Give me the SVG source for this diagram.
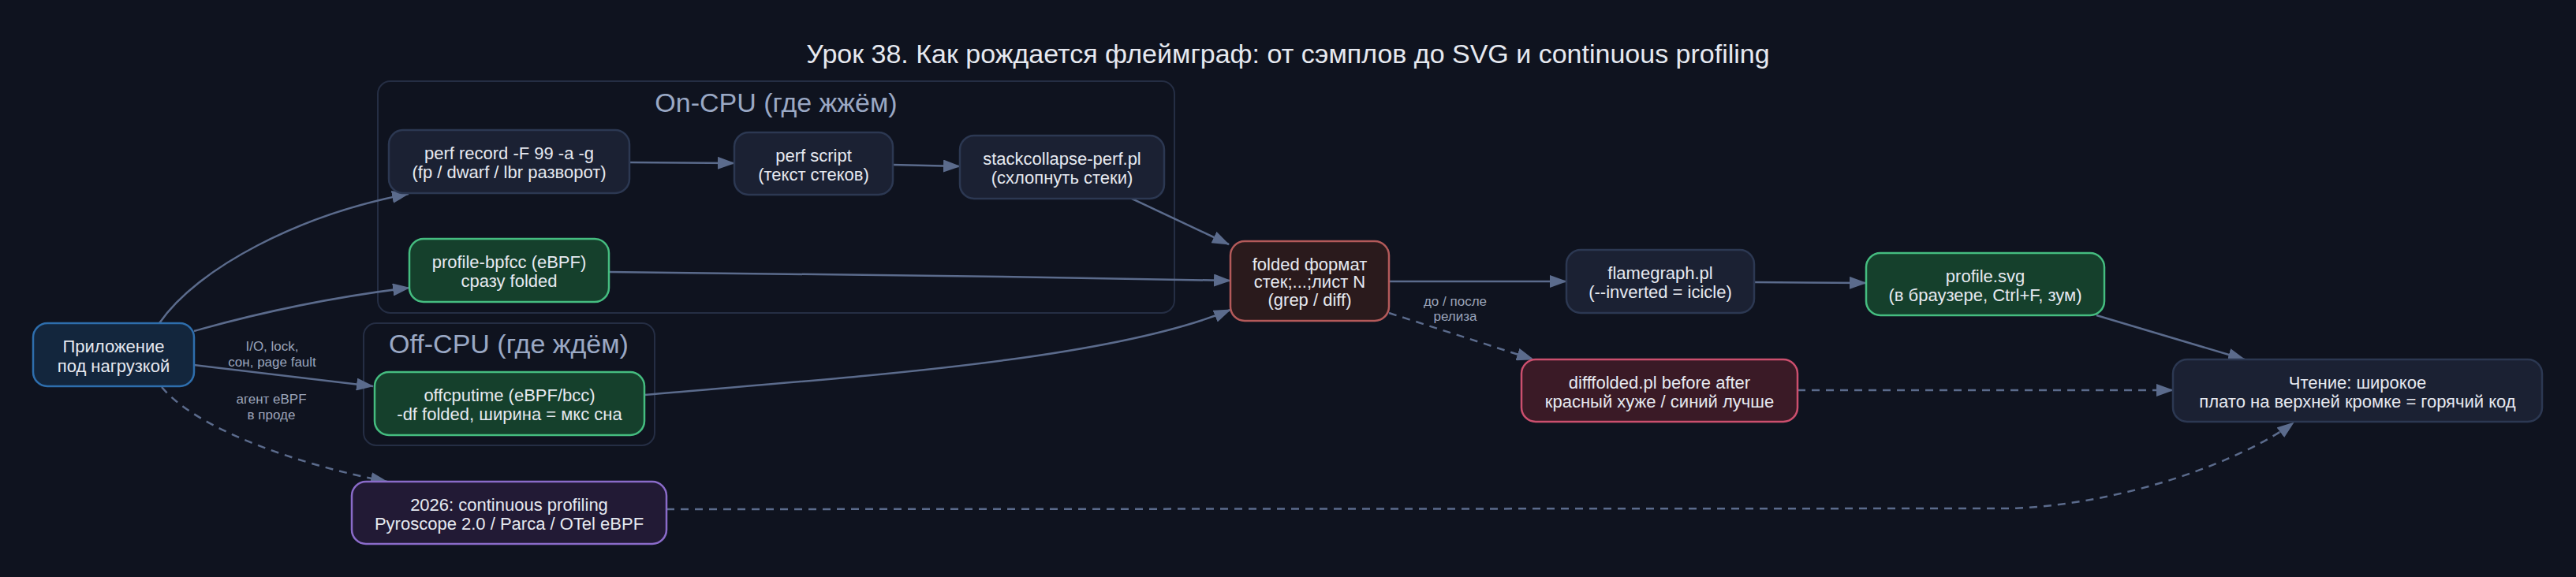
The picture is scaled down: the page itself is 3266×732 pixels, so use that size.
<svg xmlns="http://www.w3.org/2000/svg" width="3266" height="732" viewBox="0 0 3266 732">
<style>
text{font-family:"Liberation Sans",Arial,sans-serif;}
.bg{fill:#0f131f;}
.title{font-size:34px;fill:#e6e9f0;text-anchor:middle;}
.cl{fill:none;stroke:#252e44;stroke-width:2;}
.cll{font-size:34px;fill:#9aa8c4;text-anchor:middle;}
.n rect{stroke-width:2.5;}
.n text{font-size:22px;fill:#e6e9f0;text-anchor:middle;}
.def rect{fill:#1b2133;stroke:#2c3852;}
.blue rect{fill:#13263d;stroke:#2e6ead;}
.green rect{fill:#15402c;stroke:#45bd80;}
.fold rect{fill:#2a1a1c;stroke:#b45a5a;}
.diff rect{fill:#3a1a26;stroke:#cc4f6e;}
.purp rect{fill:#221a35;stroke:#8a6bc9;}
.e path{fill:none;stroke:#5b6b8c;stroke-width:2.5;}
.e path.d{stroke-dasharray:10,8;}
.el{font-size:17px;fill:#9aa4ba;text-anchor:middle;}
</style>
<defs>
<marker id="ah" markerWidth="22" markerHeight="16" refX="21" refY="8" orient="auto" markerUnits="userSpaceOnUse">
<path d="M0,0 L22,8 L0,16 z" fill="#5b6b8c"/>
</marker>
</defs>
<rect class="bg" x="0" y="0" width="3266" height="732"/>
<text class="title" x="1633" y="80">Урок 38. Как рождается флеймграф: от сэмплов до SVG и continuous profiling</text>

<g id="cluster-oncpu">
<rect class="cl" x="479" y="103" width="1010" height="294" rx="16"/>
<text class="cll" x="984" y="142">On-CPU (где жжём)</text>
</g>
<g id="cluster-offcpu">
<rect class="cl" x="461" y="410" width="369" height="155" rx="16"/>
<text class="cll" x="645" y="448">Off-CPU (где ждём)</text>
</g>

<g id="edges" class="e">
<path d="M202,410 C250,340 380,272 518,246" marker-end="url(#ah)"/>
<path d="M246,420 Q380,382 519,365" marker-end="url(#ah)"/>
<path d="M246,463 L473,490" marker-end="url(#ah)"/>
<path class="d" d="M205,491 C250,545 380,590 491,611" marker-end="url(#ah)"/>
<path d="M798,206 L931,207" marker-end="url(#ah)"/>
<path d="M1132,209 L1217,211" marker-end="url(#ah)"/>
<path d="M1435,252 L1558,310" marker-end="url(#ah)"/>
<path d="M772,345 C1000,348 1300,350 1560,356" marker-end="url(#ah)"/>
<path d="M817,501 C1050,480 1400,460 1560,393" marker-end="url(#ah)"/>
<path d="M1761,357 L1986,357" marker-end="url(#ah)"/>
<path d="M2224,358 L2366,359" marker-end="url(#ah)"/>
<path d="M2658,400 L2846,456" marker-end="url(#ah)"/>
<path class="d" d="M1761,397 L1944,456" marker-end="url(#ah)"/>
<path class="d" d="M2279,495 L2755,495" marker-end="url(#ah)"/>
<path class="d" d="M845,646 L2549,645 C2700,640 2850,580 2908,536" marker-end="url(#ah)"/>
<text class="el" x="345" y="445">I/O, lock,</text>
<text class="el" x="345" y="465">сон, page fault</text>
<text class="el" x="344" y="512">агент eBPF</text>
<text class="el" x="344" y="532">в проде</text>
<text class="el" x="1845" y="388">до / после</text>
<text class="el" x="1845" y="407">релиза</text>
</g>

<g id="app" class="n blue">
<rect x="42" y="410" width="204" height="80" rx="18"/>
<text x="144" y="447">Приложение</text>
<text x="144" y="472">под нагрузкой</text>
</g>
<g id="perf-record" class="n def">
<rect x="493" y="165" width="305" height="80" rx="18"/>
<text x="645.5" y="202">perf record -F 99 -a -g</text>
<text x="645.5" y="226">(fp / dwarf / lbr разворот)</text>
</g>
<g id="perf-script" class="n def">
<rect x="931" y="168" width="201" height="79" rx="18"/>
<text x="1031.5" y="205">perf script</text>
<text x="1031.5" y="229">(текст стеков)</text>
</g>
<g id="stackcollapse" class="n def">
<rect x="1217" y="172" width="259" height="80" rx="18"/>
<text x="1346.5" y="209">stackcollapse-perf.pl</text>
<text x="1346.5" y="233">(схлопнуть стеки)</text>
</g>
<g id="profile-bpfcc" class="n green">
<rect x="519" y="303" width="253" height="80" rx="18"/>
<text x="645.5" y="340">profile-bpfcc (eBPF)</text>
<text x="645.5" y="364">сразу folded</text>
</g>
<g id="offcputime" class="n green">
<rect x="475" y="472" width="342" height="80" rx="18"/>
<text x="646" y="509">offcputime (eBPF/bcc)</text>
<text x="646" y="533">-df folded, ширина = мкс сна</text>
</g>
<g id="continuous" class="n purp">
<rect x="446" y="611" width="399" height="79" rx="18"/>
<text x="645.5" y="648">2026: continuous profiling</text>
<text x="645.5" y="672">Pyroscope 2.0 / Parca / OTel eBPF</text>
</g>
<g id="folded" class="n fold">
<rect x="1560" y="306" width="201" height="101" rx="18"/>
<text x="1660.5" y="343">folded формат</text>
<text x="1660.5" y="365">стек;...;лист N</text>
<text x="1660.5" y="388">(grep / diff)</text>
</g>
<g id="flamegraph" class="n def">
<rect x="1986" y="317" width="238" height="80" rx="18"/>
<text x="2105" y="354">flamegraph.pl</text>
<text x="2105" y="378">(--inverted = icicle)</text>
</g>
<g id="profile-svg" class="n green">
<rect x="2366" y="321" width="302" height="79" rx="18"/>
<text x="2517" y="358">profile.svg</text>
<text x="2517" y="382">(в браузере, Ctrl+F, зум)</text>
</g>
<g id="difffolded" class="n diff">
<rect x="1929" y="456" width="350" height="79" rx="18"/>
<text x="2104" y="493">difffolded.pl before after</text>
<text x="2104" y="517">красный хуже / синий лучше</text>
</g>
<g id="reading" class="n def">
<rect x="2755" y="456" width="468" height="79" rx="18"/>
<text x="2989" y="493">Чтение: широкое</text>
<text x="2989" y="517">плато на верхней кромке = горячий код</text>
</g>
</svg>
